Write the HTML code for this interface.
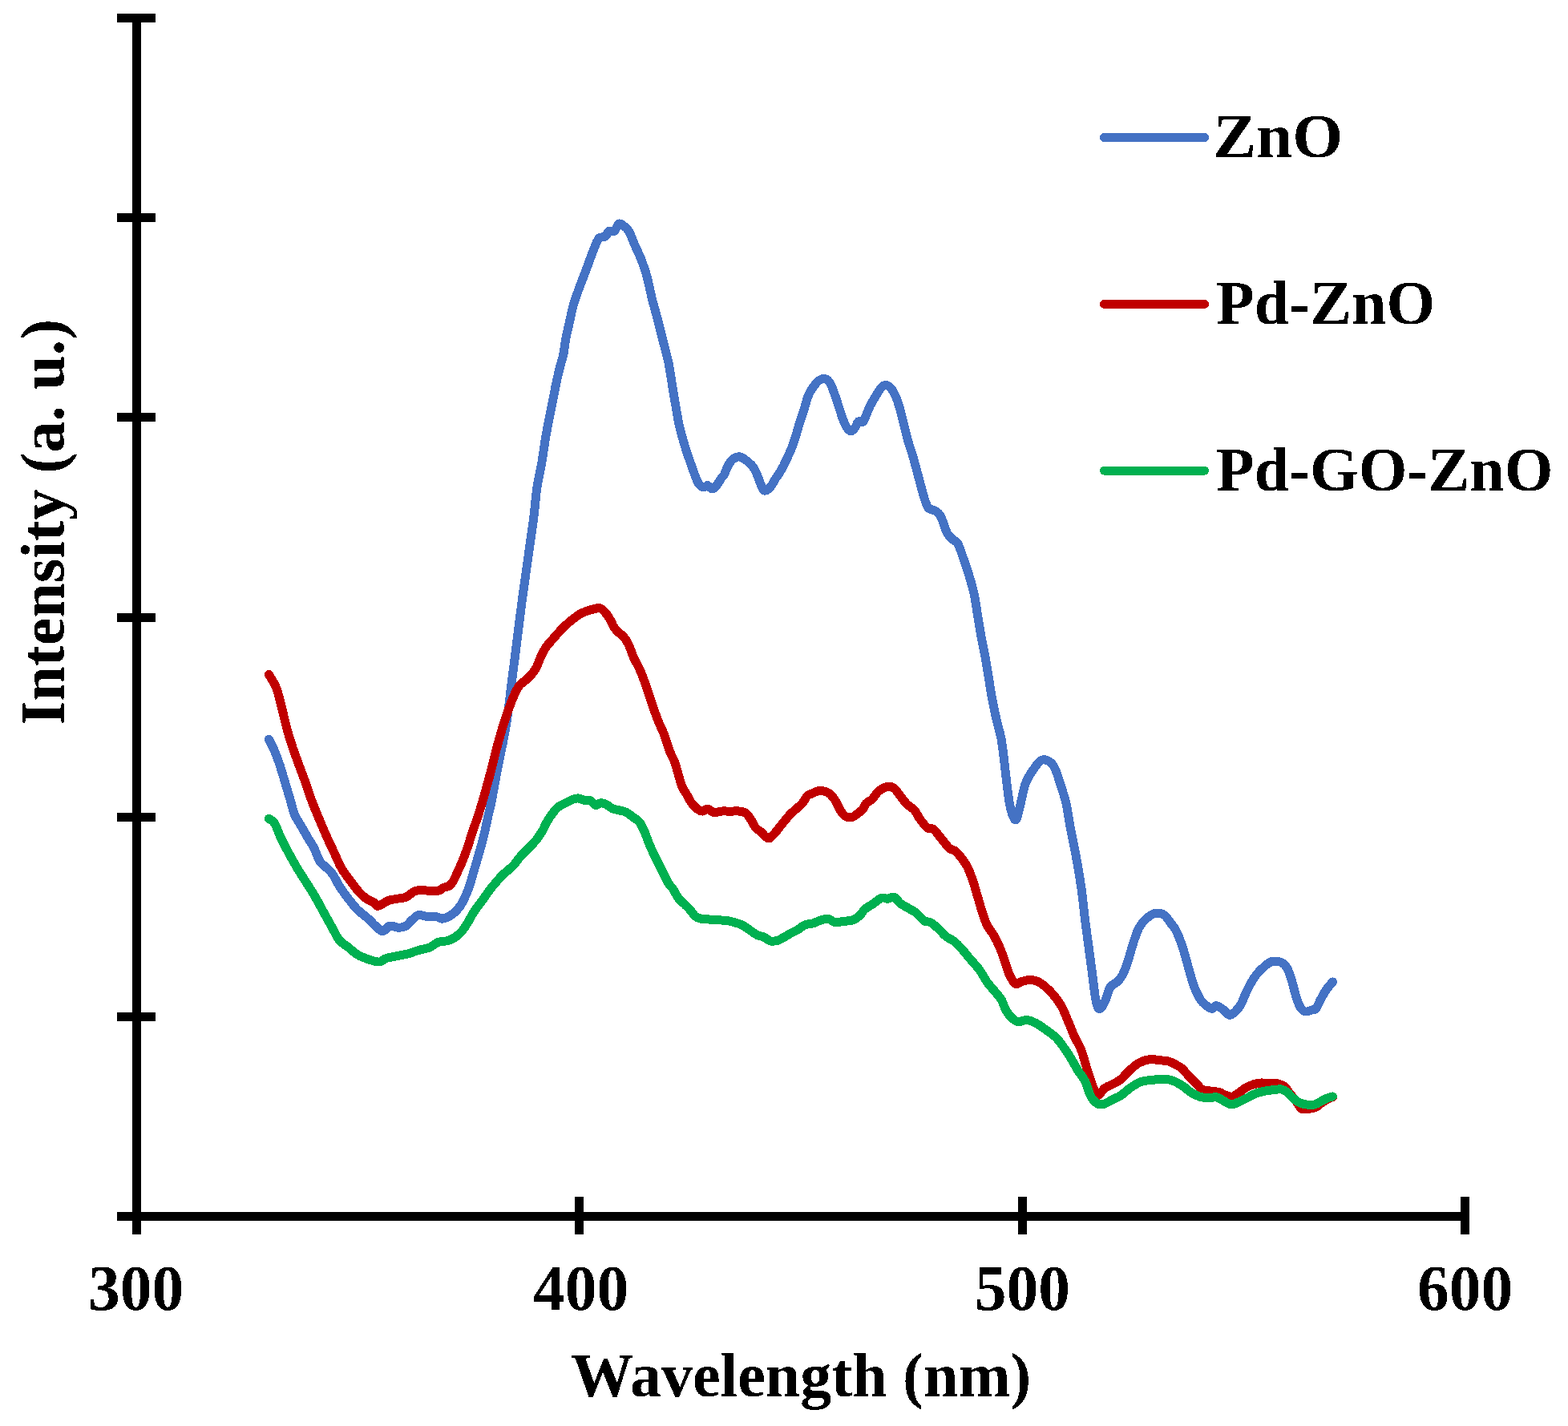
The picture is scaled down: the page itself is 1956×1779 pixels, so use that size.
<!DOCTYPE html>
<html><head><meta charset="utf-8"><title>PL spectra</title>
<style>
html,body{margin:0;padding:0;background:#fff;}
svg{display:block;}
text{font-family:"Liberation Serif", "Times New Roman", serif;font-weight:bold;font-size:78px;fill:#000;}
</style></head>
<body>
<svg width="1956" height="1779" viewBox="0 0 1956 1779">
<rect width="1956" height="1779" fill="#fff"/>
<rect x="165" y="17" width="11" height="1506" fill="#000"/>
<rect x="146" y="17" width="48" height="11" fill="#000"/>
<rect x="146" y="266" width="48" height="11" fill="#000"/>
<rect x="146" y="515" width="48" height="11" fill="#000"/>
<rect x="146" y="765" width="48" height="11" fill="#000"/>
<rect x="146" y="1014" width="48" height="11" fill="#000"/>
<rect x="146" y="1263" width="48" height="11" fill="#000"/>
<rect x="146" y="1512" width="1687" height="11" fill="#000"/>
<rect x="165.00" y="1493" width="11" height="47" fill="#000"/>
<rect x="717.00" y="1493" width="11" height="47" fill="#000"/>
<rect x="1270.00" y="1493" width="11" height="47" fill="#000"/>
<rect x="1822.00" y="1493" width="11" height="47" fill="#000"/>
<g fill="none" stroke-width="11" stroke-linecap="round" stroke-linejoin="round" shape-rendering="crispEdges">
<path d="M335.3,922.3 C336.5,924.7 340.2,931.5 342.5,936.9 C344.8,942.3 346.9,948.1 349.2,954.9 C351.4,961.6 353.8,969.9 356.0,977.4 C358.2,984.9 360.8,993.5 362.7,999.9 C364.6,1006.3 364.9,1010.4 367.2,1015.6 C369.4,1020.9 373.2,1026.2 376.2,1031.4 C379.2,1036.7 382.6,1042.6 385.2,1047.1 C387.8,1051.6 389.8,1053.9 392.0,1058.4 C394.2,1062.9 396.4,1070.3 398.7,1074.1 C400.9,1077.8 402.9,1078.3 405.5,1080.9 C408.1,1083.5 411.4,1085.7 414.4,1089.8 C417.4,1093.9 420.0,1100.3 423.4,1105.6 C426.8,1110.8 430.9,1116.4 434.7,1121.3 C438.4,1126.2 441.8,1130.7 445.9,1134.8 C450.0,1138.9 455.6,1142.7 459.4,1146.1 C463.1,1149.5 465.4,1152.5 468.4,1155.1 C471.4,1157.7 474.4,1161.8 477.4,1161.8 C480.4,1161.8 483.0,1155.8 486.4,1155.1 C489.8,1154.3 494.2,1157.3 497.6,1157.3 C501.0,1157.3 504.0,1156.6 506.6,1155.1 C509.2,1153.6 510.8,1150.5 513.4,1148.3 C516.0,1146.0 519.0,1142.3 522.4,1141.6 C525.8,1140.8 529.9,1143.4 533.6,1143.8 C537.4,1144.2 541.9,1143.4 544.9,1143.8 C547.9,1144.2 548.6,1146.5 551.6,1146.1 C554.6,1145.7 559.1,1144.2 562.9,1141.6 C566.6,1139.0 570.6,1135.6 574.1,1130.3 C577.6,1125.0 581.5,1116.2 584.0,1110.0 C586.5,1103.8 587.5,1098.8 589.3,1092.8 C591.1,1086.8 593.0,1080.4 594.8,1074.2 C596.6,1068.0 598.4,1061.9 600.1,1055.7 C601.8,1049.5 603.5,1043.3 604.9,1037.1 C606.3,1030.9 607.4,1024.8 608.8,1018.6 C610.2,1012.4 611.1,1009.8 613.1,1000.0 C615.1,990.2 617.4,976.1 620.5,960.0 C623.6,943.9 628.6,922.1 631.6,903.6 C634.6,885.1 636.3,866.9 638.6,848.8 C640.9,830.7 643.2,813.1 645.5,795.0 C647.8,776.9 649.2,764.2 652.5,740.0 C655.8,715.8 662.3,671.7 665.2,650.0 C668.1,628.3 667.9,622.1 669.7,609.8 C671.5,597.5 674.2,586.6 676.0,576.1 C677.8,565.6 678.9,556.2 680.5,546.8 C682.1,537.4 683.9,528.0 685.5,519.8 C687.1,511.6 688.5,504.9 690.0,497.4 C691.5,489.9 693.0,481.6 694.5,474.9 C696.0,468.1 697.4,462.5 698.8,456.9 C700.2,451.3 701.9,446.7 703.0,441.1 C704.1,435.5 704.5,429.6 705.7,423.2 C706.9,416.8 708.7,409.6 710.2,402.9 C711.7,396.1 712.8,389.4 714.7,382.7 C716.6,375.9 719.1,368.8 721.4,362.4 C723.6,356.0 726.0,350.4 728.2,344.4 C730.5,338.4 732.6,332.5 734.9,326.5 C737.1,320.5 739.6,313.4 741.7,308.5 C743.8,303.6 745.0,299.4 747.3,297.2 C749.5,294.9 753.1,296.5 755.2,295.0 C757.3,293.5 757.8,289.3 759.7,288.2 C761.6,287.1 764.4,289.7 766.4,288.2 C768.4,286.7 770.1,280.3 772.0,279.2 C773.9,278.1 775.5,280.0 777.6,281.5 C779.7,283.0 782.1,284.4 784.4,288.2 C786.6,291.9 788.5,298.0 791.1,304.0 C793.7,310.0 797.5,317.5 800.1,324.2 C802.7,330.9 804.6,336.1 806.9,344.4 C809.1,352.6 811.4,364.7 813.6,373.7 C815.9,382.7 818.1,389.8 820.4,398.4 C822.6,407.0 824.9,416.4 827.1,425.4 C829.4,434.4 832.0,443.4 833.9,452.4 C835.8,461.4 836.9,470.4 838.4,479.4 C839.9,488.4 841.4,497.8 842.9,506.4 C844.4,515.0 845.5,522.9 847.4,531.1 C849.3,539.3 851.9,548.3 854.1,555.8 C856.4,563.3 858.2,568.6 860.9,576.1 C863.5,583.6 867.5,595.3 870.0,600.5 C872.5,605.7 874.2,606.4 876.0,607.5 C877.8,608.6 879.4,607.3 880.5,607.0 C881.6,606.7 881.8,605.4 882.5,605.5 C883.2,605.6 884.0,606.8 885.0,607.5 C886.0,608.2 887.1,610.2 888.5,610.0 C889.9,609.8 891.3,608.8 893.2,606.5 C895.1,604.2 898.2,599.0 899.9,596.5 C901.6,594.0 902.3,594.3 903.6,591.8 C904.9,589.3 906.1,584.8 907.8,581.7 C909.5,578.6 911.5,575.2 913.7,573.2 C916.0,571.2 918.9,569.9 921.3,569.8 C923.7,569.7 925.4,570.7 928.1,572.4 C930.8,574.1 934.9,577.5 937.3,580.0 C939.7,582.5 940.7,584.2 942.4,587.6 C944.1,591.0 946.0,596.4 947.5,600.2 C949.0,604.0 950.5,608.3 951.7,610.3 C953.0,612.3 953.5,612.4 955.0,612.0 C956.5,611.6 958.8,610.3 960.9,607.8 C963.0,605.3 965.5,600.3 967.7,596.8 C970.0,593.3 972.1,590.6 974.4,586.7 C976.6,582.8 979.0,578.0 981.2,573.2 C983.5,568.4 985.9,563.0 987.9,558.0 C989.9,553.0 991.3,548.2 993.0,542.9 C994.7,537.6 996.3,531.4 998.0,526.0 C999.7,520.6 1001.4,516.1 1003.1,510.8 C1004.8,505.5 1006.2,498.8 1008.2,494.0 C1010.2,489.2 1012.4,485.6 1014.9,482.2 C1017.4,478.8 1020.5,475.1 1023.3,473.7 C1026.1,472.3 1029.5,472.6 1031.8,473.7 C1034.0,474.8 1035.1,477.1 1036.8,480.5 C1038.5,483.9 1040.2,489.2 1041.9,494.0 C1043.6,498.8 1045.2,504.1 1046.9,509.1 C1048.6,514.1 1050.3,520.1 1052.0,524.3 C1053.7,528.5 1055.4,532.1 1057.1,534.4 C1058.8,536.6 1060.4,538.1 1062.1,537.8 C1063.8,537.5 1065.8,534.7 1067.2,532.7 C1068.6,530.7 1069.0,527.1 1070.6,526.0 C1072.1,524.9 1074.8,527.4 1076.5,526.0 C1078.2,524.6 1079.2,521.0 1080.7,517.6 C1082.2,514.2 1083.7,509.7 1085.7,505.8 C1087.7,501.9 1090.2,497.7 1092.5,494.0 C1094.8,490.3 1097.2,486.1 1099.2,483.8 C1101.2,481.6 1102.3,480.5 1104.3,480.5 C1106.3,480.5 1108.8,481.3 1111.0,483.8 C1113.2,486.3 1115.8,491.1 1117.8,495.6 C1119.8,500.1 1121.1,504.9 1122.8,510.8 C1124.5,516.7 1126.2,524.4 1127.9,531.1 C1129.6,537.9 1131.3,545.4 1133.0,551.3 C1134.7,557.2 1136.3,560.9 1138.0,566.5 C1139.7,572.1 1141.4,578.8 1143.1,585.0 C1144.8,591.2 1146.4,597.4 1148.1,603.6 C1149.8,609.8 1151.5,617.1 1153.2,622.1 C1154.9,627.1 1156.0,631.4 1158.2,633.9 C1160.5,636.4 1164.2,635.6 1166.7,637.3 C1169.2,639.0 1170.9,639.4 1173.4,644.0 C1175.9,648.6 1179.0,660.2 1181.5,665.0 C1184.0,669.8 1186.0,670.5 1188.2,672.8 C1190.5,675.0 1192.8,674.5 1195.0,678.5 C1197.2,682.5 1199.5,690.1 1201.7,696.5 C1204.0,702.9 1206.2,709.2 1208.5,716.7 C1210.8,724.2 1213.3,732.8 1215.2,741.4 C1217.1,750.0 1218.2,759.4 1219.7,768.4 C1221.2,777.4 1222.7,787.1 1224.2,795.4 C1225.7,803.6 1227.2,809.6 1228.7,817.9 C1230.2,826.1 1231.7,835.9 1233.2,844.9 C1234.7,853.9 1236.0,862.9 1237.7,871.9 C1239.4,880.9 1241.4,890.6 1243.3,898.8 C1245.2,907.0 1247.4,913.4 1248.9,921.3 C1250.4,929.2 1251.2,937.1 1252.3,946.1 C1253.4,955.1 1254.4,965.2 1255.7,975.3 C1257.0,985.4 1258.3,998.8 1260.2,1006.8 C1262.1,1014.8 1264.9,1023.3 1267.0,1023.0 C1269.1,1022.7 1270.5,1012.6 1272.6,1005.0 C1274.6,997.4 1276.5,985.1 1279.3,977.5 C1282.1,969.9 1286.0,964.5 1289.4,959.6 C1292.8,954.7 1296.1,949.8 1299.5,948.3 C1302.9,946.8 1306.9,948.7 1309.7,950.6 C1312.5,952.5 1314.2,954.7 1316.4,959.6 C1318.7,964.5 1321.0,972.7 1323.2,979.8 C1325.5,986.9 1327.9,993.3 1329.9,1002.3 C1331.9,1011.3 1333.4,1022.8 1335.4,1033.7 C1337.5,1044.6 1340.0,1055.1 1342.2,1067.5 C1344.5,1079.9 1347.0,1094.8 1348.9,1107.9 C1350.8,1121.0 1351.9,1134.2 1353.4,1146.2 C1354.9,1158.2 1356.4,1168.7 1357.9,1179.9 C1359.4,1191.1 1360.9,1202.4 1362.4,1213.6 C1363.9,1224.8 1365.4,1239.8 1366.9,1247.3 C1368.4,1254.8 1369.5,1258.2 1371.4,1258.6 C1373.3,1259.0 1376.0,1254.1 1378.2,1249.6 C1380.5,1245.1 1382.3,1235.7 1384.9,1231.6 C1387.5,1227.5 1391.3,1227.4 1393.9,1224.8 C1396.5,1222.2 1398.3,1220.3 1400.6,1215.8 C1402.8,1211.3 1405.2,1204.6 1407.4,1197.9 C1409.7,1191.2 1411.8,1182.2 1414.1,1175.4 C1416.3,1168.7 1418.3,1162.3 1420.9,1157.4 C1423.5,1152.5 1426.5,1149.2 1429.9,1146.2 C1433.3,1143.2 1437.3,1140.2 1441.1,1139.4 C1444.8,1138.7 1449.0,1139.5 1452.4,1141.7 C1455.8,1144.0 1458.9,1149.7 1461.4,1152.9 C1463.9,1156.2 1465.0,1156.8 1467.2,1161.2 C1469.4,1165.6 1472.3,1173.2 1474.4,1179.2 C1476.5,1185.2 1478.0,1190.8 1479.8,1197.1 C1481.6,1203.4 1483.4,1210.9 1485.2,1216.9 C1487.0,1222.9 1488.5,1228.0 1490.6,1233.1 C1492.7,1238.2 1495.4,1243.9 1497.8,1247.5 C1500.2,1251.1 1502.6,1252.9 1505.0,1254.7 C1507.4,1256.5 1510.1,1258.3 1512.2,1258.3 C1514.3,1258.3 1515.2,1254.4 1517.6,1254.7 C1520.0,1255.0 1523.9,1258.1 1526.6,1260.1 C1529.3,1262.0 1531.4,1266.1 1533.8,1266.4 C1536.2,1266.7 1538.6,1264.2 1541.0,1261.9 C1543.4,1259.7 1546.0,1256.5 1548.1,1252.9 C1550.2,1249.3 1551.4,1244.8 1553.5,1240.3 C1555.6,1235.8 1558.3,1230.1 1560.7,1225.9 C1563.1,1221.7 1565.2,1218.4 1567.9,1215.1 C1570.6,1211.8 1573.9,1208.6 1576.9,1206.1 C1579.9,1203.5 1582.3,1200.7 1585.9,1199.8 C1589.5,1198.9 1595.2,1199.3 1598.5,1200.7 C1601.8,1202.1 1603.6,1204.3 1605.7,1207.9 C1607.8,1211.5 1609.3,1216.6 1611.1,1222.3 C1612.9,1228.0 1614.7,1236.4 1616.5,1242.1 C1618.3,1247.8 1620.0,1253.2 1621.9,1256.5 C1623.9,1259.8 1625.8,1261.3 1628.2,1261.9 C1630.6,1262.5 1634.0,1260.7 1636.3,1260.1 C1638.5,1259.5 1639.9,1260.4 1641.7,1258.3 C1643.5,1256.2 1645.0,1251.4 1647.1,1247.5 C1649.2,1243.6 1651.8,1238.7 1654.3,1234.9 C1656.8,1231.2 1661.1,1226.7 1662.4,1225.0" stroke="#4472C4"/>
<path d="M335.3,841.4 C336.9,844.2 342.0,851.3 344.7,858.2 C347.4,865.1 349.2,874.4 351.5,883.0 C353.8,891.6 355.9,901.8 358.2,910.0 C360.4,918.2 362.4,924.5 365.0,932.4 C367.6,940.3 371.4,950.1 374.0,957.2 C376.6,964.3 378.4,968.8 380.7,975.2 C382.9,981.6 384.9,988.3 387.5,995.4 C390.1,1002.5 393.2,1010.0 396.5,1017.9 C399.8,1025.8 403.7,1035.1 407.0,1042.6 C410.3,1050.1 413.3,1056.2 416.5,1062.9 C419.7,1069.7 422.6,1077.1 426.0,1083.1 C429.4,1089.1 433.4,1093.9 437.0,1098.8 C440.6,1103.7 444.1,1108.5 447.5,1112.3 C450.9,1116.0 454.1,1119.0 457.2,1121.3 C460.3,1123.5 463.8,1124.3 466.2,1125.8 C468.6,1127.3 468.8,1130.7 471.8,1130.3 C474.8,1129.9 480.3,1125.1 484.2,1123.6 C488.1,1122.1 491.7,1122.0 495.4,1121.3 C499.1,1120.5 502.7,1120.8 506.6,1119.1 C510.5,1117.4 514.1,1112.5 519.0,1111.2 C523.9,1109.9 531.2,1111.2 535.9,1111.2 C540.6,1111.2 544.2,1111.8 547.1,1111.2 C550.0,1110.6 550.9,1108.5 553.1,1107.5 C555.3,1106.5 558.4,1106.5 560.5,1105.1 C562.6,1103.7 563.7,1102.1 565.5,1099.0 C567.3,1095.9 569.4,1090.7 571.3,1086.6 C573.2,1082.5 574.8,1079.3 576.9,1074.2 C579.0,1069.1 581.6,1061.9 583.7,1055.7 C585.8,1049.5 587.5,1043.3 589.6,1037.1 C591.7,1030.9 594.1,1024.8 596.1,1018.6 C598.1,1012.4 600.0,1006.4 601.9,1000.0 C603.8,993.6 605.7,986.7 607.5,980.0 C609.3,973.3 610.9,967.9 612.9,960.0 C614.9,952.1 617.3,941.7 619.7,932.9 C622.1,924.1 624.6,915.0 627.1,907.0 C629.6,899.0 632.0,891.5 634.5,884.7 C637.0,877.9 639.6,871.1 641.9,866.1 C644.2,861.1 645.8,857.9 648.1,855.0 C650.4,852.1 653.0,851.1 655.5,848.8 C658.0,846.5 660.7,844.1 663.0,841.4 C665.3,838.7 667.1,836.7 669.1,832.8 C671.1,828.9 673.2,822.2 675.3,817.9 C677.4,813.6 679.2,810.1 681.5,806.8 C683.8,803.5 686.2,801.2 688.9,798.1 C691.6,795.0 694.7,791.3 697.6,788.2 C700.5,785.1 703.3,782.3 706.2,779.6 C709.1,776.9 712.0,774.5 714.9,772.2 C717.8,769.9 720.7,767.6 723.6,766.0 C726.5,764.4 729.3,763.3 732.2,762.3 C735.1,761.3 738.2,760.4 740.9,759.8 C743.6,759.2 746.0,758.0 748.3,758.6 C750.6,759.2 752.4,761.2 754.5,763.5 C756.6,765.8 758.9,769.1 760.7,772.2 C762.6,775.3 764.0,779.3 765.6,782.0 C767.2,784.7 768.5,786.1 770.6,788.2 C772.7,790.3 775.7,791.7 778.0,794.4 C780.3,797.1 782.2,800.2 784.2,804.3 C786.2,808.4 787.4,813.3 790.0,819.1 C792.6,824.9 796.9,832.3 799.7,838.9 C802.5,845.5 804.5,851.8 806.9,858.7 C809.3,865.6 811.7,873.4 814.1,880.3 C816.5,887.2 818.9,894.1 821.3,900.1 C823.7,906.1 826.1,910.0 828.5,916.3 C830.9,922.6 833.6,932.3 835.7,937.9 C837.9,943.5 839.7,945.4 841.4,950.0 C843.1,954.6 844.5,960.2 846.0,965.3 C847.5,970.4 848.8,976.4 850.6,980.7 C852.4,985.1 854.7,987.8 856.7,991.4 C858.8,995.0 860.6,999.0 862.9,1002.1 C865.2,1005.2 868.3,1008.1 870.6,1009.8 C872.9,1011.5 874.7,1012.2 876.7,1012.1 C878.7,1012.0 880.5,1008.7 882.8,1009.0 C885.1,1009.3 887.7,1013.2 890.5,1013.7 C893.3,1014.2 896.4,1012.4 899.7,1012.1 C903.0,1011.8 906.6,1012.1 910.4,1012.1 C914.2,1012.1 919.4,1011.7 922.7,1012.1 C926.0,1012.5 928.1,1012.7 930.4,1014.4 C932.7,1016.1 934.5,1019.0 936.5,1022.1 C938.5,1025.2 940.6,1030.2 942.6,1032.8 C944.6,1035.3 946.8,1035.6 948.8,1037.4 C950.8,1039.2 953.1,1042.2 954.9,1043.6 C956.7,1045.0 957.7,1046.4 959.5,1045.9 C961.3,1045.4 963.6,1042.7 965.6,1040.5 C967.6,1038.3 969.8,1035.3 971.8,1032.8 C973.8,1030.2 975.6,1028.0 977.9,1025.2 C980.2,1022.4 983.0,1018.7 985.6,1016.0 C988.2,1013.3 990.8,1011.3 993.3,1009.0 C995.8,1006.7 998.6,1004.8 1000.9,1002.1 C1003.2,999.4 1005.0,994.9 1007.1,992.9 C1009.2,990.9 1010.9,990.9 1013.2,989.9 C1015.5,988.9 1018.1,987.2 1020.9,986.8 C1023.7,986.4 1027.5,986.8 1030.1,987.6 C1032.6,988.4 1034.2,989.5 1036.2,991.4 C1038.2,993.3 1040.2,995.8 1042.3,999.1 C1044.3,1002.4 1046.5,1008.1 1048.5,1011.3 C1050.5,1014.5 1052.3,1016.9 1054.6,1018.3 C1056.9,1019.7 1060.0,1020.2 1062.3,1019.8 C1064.6,1019.4 1066.1,1017.7 1068.4,1016.0 C1070.7,1014.3 1074.0,1012.1 1076.1,1009.8 C1078.1,1007.5 1078.7,1004.1 1080.7,1002.0 C1082.7,999.9 1085.4,999.6 1087.9,997.2 C1090.4,994.8 1092.6,990.0 1095.7,987.4 C1098.8,984.8 1103.3,982.2 1106.6,981.5 C1109.9,980.8 1112.6,981.4 1115.4,983.4 C1118.2,985.4 1120.7,990.0 1123.3,993.3 C1125.9,996.6 1128.2,1000.1 1131.2,1003.1 C1134.2,1006.1 1138.4,1008.0 1141.0,1011.0 C1143.6,1014.0 1144.3,1017.2 1146.9,1020.8 C1149.5,1024.4 1153.8,1030.3 1156.7,1032.6 C1159.7,1034.9 1161.6,1032.3 1164.6,1034.6 C1167.5,1036.9 1171.1,1042.5 1174.4,1046.4 C1177.7,1050.3 1181.3,1055.6 1184.3,1058.2 C1187.2,1060.8 1189.1,1059.5 1192.1,1062.1 C1195.0,1064.7 1199.4,1070.3 1202.0,1073.9 C1204.6,1077.5 1205.9,1079.5 1207.9,1083.8 C1209.9,1088.1 1211.8,1093.6 1213.8,1099.5 C1215.8,1105.4 1217.7,1112.6 1219.7,1119.2 C1221.7,1125.8 1223.6,1133.0 1225.6,1138.9 C1227.6,1144.8 1229.2,1150.0 1231.5,1154.6 C1233.8,1159.2 1236.8,1161.8 1239.4,1166.4 C1242.0,1171.0 1244.9,1176.8 1247.2,1182.1 C1249.5,1187.3 1251.1,1192.3 1253.1,1197.9 C1255.1,1203.5 1256.7,1210.7 1259.0,1215.6 C1261.3,1220.5 1264.3,1225.9 1266.9,1227.4 C1269.5,1228.9 1271.8,1225.2 1274.8,1224.4 C1277.8,1223.6 1281.3,1222.5 1284.6,1222.5 C1287.9,1222.5 1291.1,1222.9 1294.4,1224.4 C1297.7,1225.9 1301.0,1228.5 1304.3,1231.3 C1307.6,1234.1 1310.8,1237.3 1314.1,1241.2 C1317.4,1245.1 1321.0,1249.7 1323.9,1254.9 C1326.9,1260.1 1329.1,1266.4 1331.8,1272.6 C1334.5,1278.8 1337.1,1286.0 1339.9,1292.3 C1342.8,1298.6 1346.3,1303.5 1348.9,1310.3 C1351.5,1317.0 1353.5,1325.7 1355.7,1332.8 C1358.0,1339.9 1360.2,1347.4 1362.4,1353.0 C1364.7,1358.6 1366.6,1365.8 1369.2,1366.5 C1371.8,1367.2 1374.8,1359.9 1378.2,1357.5 C1381.6,1355.1 1386.0,1353.8 1389.4,1351.9 C1392.8,1350.0 1395.0,1349.1 1398.4,1346.3 C1401.8,1343.5 1405.8,1338.4 1409.6,1335.0 C1413.3,1331.6 1416.8,1328.2 1420.9,1326.0 C1425.0,1323.8 1430.3,1322.0 1434.4,1321.5 C1438.5,1321.0 1441.8,1322.3 1445.6,1322.7 C1449.3,1323.1 1453.3,1322.8 1456.9,1323.8 C1460.5,1324.8 1464.3,1327.0 1467.2,1328.5 C1470.1,1330.0 1471.7,1330.6 1474.4,1333.0 C1477.1,1335.4 1480.4,1339.8 1483.4,1342.9 C1486.4,1346.0 1489.7,1349.1 1492.4,1351.8 C1495.1,1354.5 1496.9,1357.5 1499.6,1359.0 C1502.3,1360.5 1505.0,1360.2 1508.6,1360.8 C1512.2,1361.4 1517.9,1361.7 1521.2,1362.6 C1524.5,1363.5 1525.7,1365.3 1528.4,1366.2 C1531.1,1367.1 1534.4,1368.6 1537.4,1368.0 C1540.4,1367.4 1543.3,1364.5 1546.3,1362.6 C1549.3,1360.6 1552.3,1357.9 1555.3,1356.3 C1558.3,1354.7 1561.3,1353.6 1564.3,1352.7 C1567.3,1351.8 1570.3,1351.2 1573.3,1351.0 C1576.3,1350.8 1579.0,1351.7 1582.3,1351.8 C1585.6,1351.9 1589.8,1351.2 1593.1,1351.8 C1596.4,1352.4 1599.4,1353.3 1602.1,1355.4 C1604.8,1357.5 1606.9,1361.4 1609.3,1364.4 C1611.7,1367.4 1614.1,1370.2 1616.5,1373.4 C1618.9,1376.6 1621.0,1381.7 1623.7,1383.3 C1626.4,1384.9 1629.7,1383.6 1632.7,1383.3 C1635.7,1383.0 1639.0,1382.5 1641.7,1381.2 C1644.4,1380.0 1646.2,1377.6 1648.9,1375.8 C1651.6,1374.0 1655.7,1371.5 1657.9,1370.3 C1660.2,1369.1 1661.7,1368.9 1662.4,1368.6" stroke="#C00000"/>
<path d="M335.3,1021.3 C336.5,1022.2 340.2,1023.4 342.5,1026.9 C344.8,1030.5 346.6,1037.0 349.2,1042.6 C351.8,1048.2 354.8,1054.2 358.2,1060.6 C361.6,1067.0 365.8,1074.5 369.5,1080.9 C373.2,1087.3 376.9,1092.8 380.7,1098.8 C384.4,1104.8 388.2,1110.4 392.0,1116.8 C395.8,1123.2 399.5,1130.3 403.2,1137.1 C406.9,1143.8 411.0,1151.3 414.4,1157.3 C417.8,1163.3 420.0,1168.9 423.4,1173.0 C426.8,1177.1 430.9,1179.0 434.7,1182.0 C438.4,1185.0 441.8,1188.5 445.9,1191.0 C450.0,1193.5 454.9,1195.2 459.4,1196.7 C463.9,1198.2 469.1,1200.2 472.9,1200.0 C476.6,1199.8 477.8,1196.8 481.9,1195.5 C486.0,1194.2 493.1,1193.1 497.6,1192.2 C502.1,1191.3 504.8,1191.0 508.9,1189.9 C513.0,1188.8 517.9,1186.7 522.4,1185.4 C526.9,1184.1 531.8,1183.7 535.9,1182.0 C540.0,1180.3 543.0,1176.8 547.1,1175.3 C551.2,1173.8 556.1,1174.9 560.6,1173.0 C565.1,1171.1 570.3,1167.8 574.1,1164.1 C577.9,1160.4 580.5,1155.5 583.4,1151.1 C586.2,1146.7 588.4,1141.9 591.2,1137.6 C594.0,1133.3 596.8,1130.0 600.2,1125.3 C603.6,1120.6 608.5,1113.5 611.5,1109.5 C614.5,1105.5 615.9,1104.0 618.5,1101.0 C621.1,1098.0 623.4,1095.0 627.0,1091.5 C630.6,1088.0 636.2,1084.0 640.0,1080.1 C643.8,1076.2 646.2,1071.8 649.7,1067.9 C653.2,1064.0 657.5,1060.2 660.9,1056.7 C664.3,1053.2 667.3,1050.0 669.9,1046.6 C672.5,1043.2 674.6,1040.0 676.7,1036.4 C678.8,1032.8 680.2,1028.8 682.3,1025.2 C684.3,1021.7 686.8,1018.1 689.0,1015.1 C691.2,1012.1 693.7,1009.1 695.8,1007.2 C697.9,1005.3 699.3,1004.9 701.4,1003.8 C703.5,1002.7 706.0,1001.6 708.2,1000.5 C710.5,999.4 712.6,997.9 714.9,997.1 C717.1,996.4 719.5,995.8 721.7,996.0 C724.0,996.2 726.0,997.7 728.4,998.2 C730.8,998.7 733.9,997.8 736.3,998.8 C738.7,999.8 740.8,1003.9 743.0,1004.4 C745.2,1004.9 747.5,1001.7 749.8,1001.6 C752.0,1001.5 754.2,1002.7 756.5,1003.8 C758.8,1004.9 760.9,1007.2 763.3,1008.3 C765.7,1009.4 768.3,1009.9 771.1,1010.6 C773.9,1011.4 777.0,1011.4 780.0,1012.8 C783.0,1014.2 785.9,1016.6 788.9,1018.8 C791.9,1021.0 795.3,1022.6 797.9,1026.0 C800.5,1029.4 802.7,1034.8 804.6,1039.0 C806.5,1043.2 807.4,1046.9 809.2,1051.2 C811.0,1055.5 813.2,1060.7 815.3,1065.0 C817.3,1069.3 819.5,1073.2 821.5,1077.3 C823.5,1081.4 825.6,1085.5 827.6,1089.6 C829.6,1093.7 831.7,1098.5 833.7,1101.8 C835.8,1105.1 837.9,1106.4 839.9,1109.5 C841.9,1112.6 843.7,1117.1 846.0,1120.2 C848.3,1123.3 851.2,1125.3 853.7,1127.9 C856.2,1130.5 859.0,1133.0 861.3,1135.6 C863.6,1138.2 865.2,1141.5 867.5,1143.3 C869.8,1145.1 872.1,1145.7 875.2,1146.3 C878.3,1146.9 882.1,1146.8 885.9,1147.1 C889.7,1147.4 894.6,1147.7 898.2,1147.9 C901.8,1148.2 904.3,1148.1 907.4,1148.6 C910.5,1149.1 913.5,1150.0 916.6,1150.9 C919.7,1151.8 922.7,1152.5 925.8,1154.0 C928.9,1155.5 931.9,1158.0 935.0,1160.1 C938.1,1162.1 941.1,1164.8 944.2,1166.3 C947.3,1167.8 950.6,1168.0 953.4,1169.3 C956.2,1170.6 958.2,1173.2 961.0,1173.9 C963.8,1174.6 967.4,1174.0 970.2,1173.2 C973.0,1172.4 975.3,1170.7 977.9,1169.3 C980.5,1167.9 982.8,1166.2 985.6,1164.7 C988.4,1163.2 991.7,1161.9 994.8,1160.1 C997.9,1158.3 1000.7,1155.4 1004.0,1154.0 C1007.3,1152.6 1011.4,1152.7 1014.7,1151.7 C1018.0,1150.7 1020.8,1148.8 1023.9,1147.9 C1027.0,1147.0 1030.0,1145.8 1033.1,1146.3 C1036.2,1146.8 1039.2,1150.4 1042.3,1150.9 C1045.4,1151.4 1047.9,1149.9 1051.5,1149.4 C1055.1,1148.9 1060.2,1149.2 1063.8,1147.9 C1067.4,1146.6 1070.5,1144.0 1073.0,1141.7 C1075.5,1139.4 1076.3,1136.4 1079.1,1134.0 C1081.9,1131.6 1086.4,1129.4 1089.8,1127.1 C1093.2,1124.8 1096.8,1121.2 1099.7,1120.2 C1102.7,1119.2 1104.9,1121.4 1107.5,1121.2 C1110.1,1121.0 1112.8,1118.2 1115.4,1119.2 C1118.0,1120.2 1120.3,1124.8 1123.3,1127.1 C1126.2,1129.4 1129.8,1131.0 1133.1,1133.0 C1136.4,1135.0 1139.7,1136.3 1143.0,1138.9 C1146.3,1141.5 1149.8,1146.7 1152.8,1148.7 C1155.8,1150.7 1157.8,1149.1 1160.7,1150.7 C1163.7,1152.3 1167.2,1155.5 1170.5,1158.5 C1173.8,1161.5 1177.0,1165.8 1180.3,1168.4 C1183.6,1171.0 1186.9,1171.7 1190.2,1174.3 C1193.5,1176.9 1196.7,1180.5 1200.0,1184.1 C1203.3,1187.7 1206.2,1191.6 1209.8,1195.9 C1213.4,1200.2 1218.0,1204.8 1221.6,1209.7 C1225.2,1214.6 1228.2,1220.8 1231.5,1225.4 C1234.8,1230.0 1238.3,1233.6 1241.3,1237.2 C1244.2,1240.8 1246.9,1243.2 1249.2,1247.1 C1251.5,1251.0 1252.8,1256.9 1255.1,1260.8 C1257.4,1264.7 1260.4,1268.4 1263.0,1270.7 C1265.6,1273.0 1267.8,1274.3 1270.8,1274.6 C1273.8,1274.9 1277.1,1272.3 1280.7,1272.6 C1284.3,1272.9 1288.6,1274.6 1292.5,1276.6 C1296.4,1278.6 1300.1,1281.4 1304.3,1284.4 C1308.5,1287.4 1313.8,1291.0 1317.5,1294.6 C1321.2,1298.2 1323.4,1301.7 1326.4,1305.8 C1329.4,1309.9 1332.4,1314.4 1335.4,1319.3 C1338.4,1324.2 1341.4,1330.1 1344.4,1335.0 C1347.4,1339.9 1350.8,1343.2 1353.4,1348.5 C1356.0,1353.8 1358.0,1362.0 1360.2,1366.5 C1362.5,1371.0 1364.3,1373.6 1366.9,1375.5 C1369.5,1377.4 1372.5,1378.3 1375.9,1377.7 C1379.3,1377.1 1383.5,1374.0 1387.2,1372.1 C1391.0,1370.2 1394.7,1368.9 1398.4,1366.5 C1402.1,1364.1 1405.5,1360.3 1409.6,1357.5 C1413.7,1354.7 1418.6,1351.3 1423.1,1349.6 C1427.6,1347.9 1431.7,1348.0 1436.6,1347.4 C1441.5,1346.9 1447.9,1346.1 1452.4,1346.3 C1456.9,1346.5 1459.6,1347.0 1463.6,1348.5 C1467.6,1350.0 1472.6,1353.1 1476.2,1355.4 C1479.8,1357.8 1481.9,1360.5 1485.2,1362.6 C1488.5,1364.7 1492.4,1366.8 1496.0,1368.0 C1499.6,1369.2 1503.2,1369.6 1506.8,1369.8 C1510.4,1370.0 1514.3,1368.3 1517.6,1368.9 C1520.9,1369.5 1523.6,1371.9 1526.6,1373.4 C1529.6,1374.9 1532.6,1377.6 1535.6,1377.9 C1538.6,1378.2 1541.2,1376.6 1544.5,1375.2 C1547.8,1373.8 1551.7,1371.6 1555.3,1369.8 C1558.9,1368.0 1562.8,1365.8 1566.1,1364.4 C1569.4,1363.1 1571.8,1362.5 1575.1,1361.7 C1578.4,1361.0 1582.0,1360.4 1585.9,1359.9 C1589.8,1359.5 1595.2,1358.5 1598.5,1359.0 C1601.8,1359.5 1603.3,1360.8 1605.7,1362.6 C1608.1,1364.4 1610.5,1367.7 1612.9,1369.8 C1615.3,1371.9 1617.4,1373.8 1620.1,1375.2 C1622.8,1376.6 1625.8,1377.5 1629.1,1377.9 C1632.4,1378.4 1636.6,1378.7 1639.9,1377.9 C1643.2,1377.2 1646.2,1374.8 1648.9,1373.4 C1651.6,1372.1 1653.8,1370.7 1656.1,1369.8 C1658.3,1368.9 1661.4,1368.3 1662.4,1368.0" stroke="#00B050"/>
</g>
<defs><filter id="bin" filterUnits="userSpaceOnUse" x="0" y="0" width="1956" height="1779" color-interpolation-filters="sRGB"><feComponentTransfer><feFuncA type="discrete" tableValues="0 1"/></feComponentTransfer></filter></defs>
<g filter="url(#bin)">
<text x="109.90" y="1633.5" style="font-size:79.5px">300</text>
<text x="664.90" y="1633.5" style="font-size:79.5px">400</text>
<text x="1215.75" y="1633.5" style="font-size:79.5px">500</text>
<text x="1767.90" y="1633.5" style="font-size:79.5px">600</text>
<text x="712.2" y="1741.5">Wavelength (nm)</text>
<text transform="translate(79.5,904.8) rotate(-90)" x="0" y="0">Intensity (a. u.)</text>
</g>
<path d="M1377.5,171.4 H1502.5" stroke="#4472C4" stroke-width="11" stroke-linecap="round" fill="none" shape-rendering="crispEdges"/>
<text filter="url(#bin)" x="1513.3" y="196.2" textLength="161.7" lengthAdjust="spacingAndGlyphs">ZnO</text>
<path d="M1377.5,379.3 H1502.5" stroke="#C00000" stroke-width="11" stroke-linecap="round" fill="none" shape-rendering="crispEdges"/>
<text filter="url(#bin)" x="1517" y="404.1">Pd-ZnO</text>
<path d="M1377.5,587.1 H1502.5" stroke="#00B050" stroke-width="11" stroke-linecap="round" fill="none" shape-rendering="crispEdges"/>
<text filter="url(#bin)" x="1517" y="611.9">Pd-GO-ZnO</text>
</svg>
</body></html>
